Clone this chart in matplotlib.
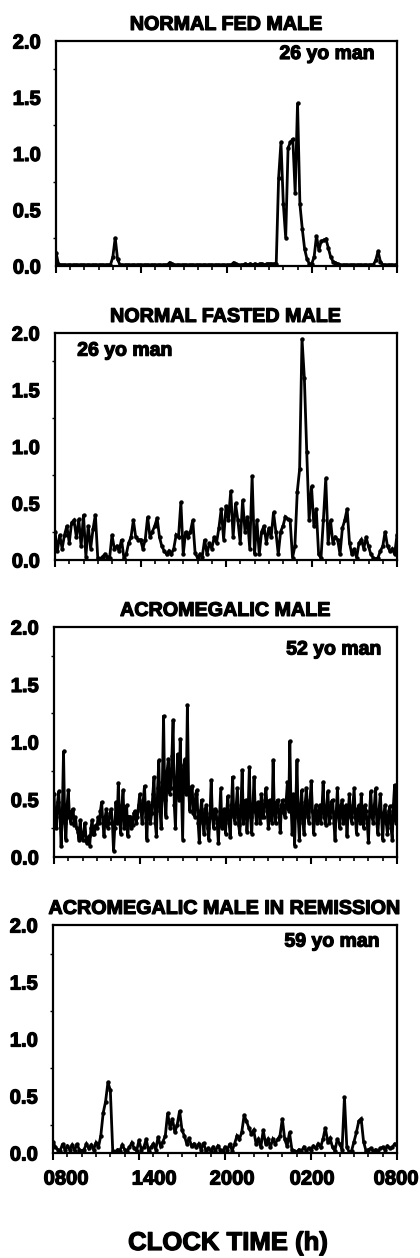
import numpy as np
import matplotlib
matplotlib.use("Agg")
import matplotlib.pyplot as plt
import matplotlib.patheffects as pe
from matplotlib.transforms import offset_copy
from matplotlib.ticker import MultipleLocator

minutes_10 = np.arange(0, 24 * 60 + 1, 10)
minutes_5 = np.arange(0, 24 * 60 + 1, 5)

fed_male = [
    0.12, 0.02, 0.01, 0.01, 0.01, 0.01,
    0.01, 0.01, 0.01, 0.01, 0.01, 0.01,
    0.01, 0.01, 0.01, 0.01, 0.01, 0.01,
    0.01, 0.01, 0.01, 0.01, 0.01, 0.01,
    0.08, 0.25, 0.06, 0.01, 0.01, 0.01,
    0.01, 0.01, 0.01, 0.01, 0.01, 0.01,
    0.01, 0.01, 0.01, 0.01, 0.01, 0.01,
    0.01, 0.01, 0.01, 0.01, 0.01, 0.01,
    0.03, 0.02, 0.01, 0.01, 0.01, 0.01,
    0.01, 0.01, 0.01, 0.01, 0.01, 0.01,
    0.01, 0.01, 0.01, 0.01, 0.01, 0.01,
    0.01, 0.01, 0.01, 0.01, 0.01, 0.01,
    0.01, 0.01, 0.01, 0.03, 0.02, 0.01,
    0.01, 0.01, 0.02, 0.01, 0.02, 0.01,
    0.02, 0.01, 0.02, 0.02, 0.01, 0.02,
    0.02, 0.02, 0.02, 0.02, 0.78, 1.10,
    0.55, 0.25, 1.05, 1.10, 1.13, 0.65,
    1.45, 0.55, 0.33, 0.15, 0.06, 0.02,
    0.02, 0.08, 0.27, 0.14, 0.22, 0.23,
    0.24, 0.16, 0.08, 0.04, 0.03, 0.02,
    0.01, 0.01, 0.01, 0.01, 0.01, 0.01,
    0.01, 0.01, 0.01, 0.01, 0.01, 0.01,
    0.01, 0.01, 0.01, 0.05, 0.13, 0.04,
    0.01, 0.01, 0.01, 0.01, 0.01, 0.01,
    0.01,
]

fasted_male = [
    0.25, 0.08, 0.22, 0.10, 0.22, 0.30,
    0.15, 0.33, 0.35, 0.20, 0.36, 0.12,
    0.40, 0.03, 0.30, 0.10, 0.27, 0.40,
    0.02, 0.01, 0.03, 0.05, 0.03, 0.02,
    0.22, 0.10, 0.12, 0.08, 0.18, 0.02,
    0.05, 0.15, 0.20, 0.35, 0.20, 0.18,
    0.18, 0.10, 0.18, 0.38, 0.20, 0.25,
    0.30, 0.37, 0.20, 0.12, 0.08, 0.05,
    0.08, 0.05, 0.10, 0.22, 0.20, 0.51,
    0.05, 0.25, 0.20, 0.25, 0.35, 0.06,
    0.02, 0.05, 0.03, 0.18, 0.05, 0.15,
    0.10, 0.20, 0.15, 0.28, 0.45, 0.18,
    0.48, 0.35, 0.61, 0.20, 0.50, 0.35,
    0.15, 0.53, 0.25, 0.38, 0.10, 0.74,
    0.05, 0.35, 0.05, 0.25, 0.30, 0.15,
    0.28, 0.20, 0.42, 0.25, 0.05, 0.25,
    0.30, 0.38, 0.36, 0.35, 0.02, 0.12,
    0.60, 0.80, 1.95, 1.60, 0.95, 0.35,
    0.65, 0.30, 0.45, 0.05, 0.02, 0.35,
    0.72, 0.15, 0.35, 0.15, 0.20, 0.18,
    0.05, 0.28, 0.35, 0.45, 0.15, 0.05,
    0.10, 0.02, 0.15, 0.18, 0.10, 0.20,
    0.12, 0.05, 0.02, 0.01, 0.02, 0.08,
    0.12, 0.25, 0.12, 0.08, 0.10, 0.05,
    0.22,
]

# acromegalic trace is much denser, 5 min samples
acro_male = [
    0.55, 0.30, 0.25, 0.48, 0.57, 0.35, 0.10, 0.40, 0.92, 0.30, 0.15, 0.45,
    0.58, 0.35, 0.30, 0.40, 0.42, 0.28, 0.35, 0.25, 0.22, 0.15, 0.32, 0.18,
    0.15, 0.22, 0.30, 0.14, 0.12, 0.18, 0.10, 0.25, 0.32, 0.20, 0.20, 0.28,
    0.25, 0.35, 0.30, 0.40, 0.48, 0.30, 0.18, 0.35, 0.42, 0.25, 0.30, 0.38,
    0.42, 0.30, 0.05, 0.25, 0.48, 0.30, 0.64, 0.35, 0.20, 0.45, 0.58, 0.25,
    0.30, 0.45, 0.18, 0.35, 0.35, 0.25, 0.28, 0.38, 0.40, 0.30, 0.35, 0.45,
    0.55, 0.40, 0.30, 0.50, 0.62, 0.35, 0.15, 0.48, 0.45, 0.30, 0.38, 0.55,
    0.70, 0.30, 0.18, 0.60, 0.84, 0.40, 0.25, 0.65, 1.23, 0.50, 0.35, 0.75,
    0.85, 0.55, 0.60, 0.88, 1.19, 0.45, 0.25, 0.70, 0.90, 0.50, 1.03, 0.60,
    0.15, 0.80, 0.85, 0.55, 1.32, 0.60, 0.40, 0.60, 0.62, 0.38, 0.35, 0.55,
    0.58, 0.30, 0.13, 0.40, 0.50, 0.30, 0.20, 0.42, 0.45, 0.25, 0.15, 0.38,
    0.67, 0.35, 0.25, 0.42, 0.40, 0.30, 0.12, 0.35, 0.60, 0.25, 0.30, 0.42,
    0.20, 0.40, 0.53, 0.30, 0.17, 0.45, 0.70, 0.35, 0.30, 0.45, 0.60, 0.28,
    0.20, 0.45, 0.76, 0.30, 0.38, 0.50, 0.22, 0.40, 0.78, 0.35, 0.20, 0.45,
    0.70, 0.40, 0.30, 0.48, 0.45, 0.30, 0.55, 0.35, 0.35, 0.50, 0.60, 0.40,
    0.25, 0.50, 0.45, 0.30, 0.84, 0.40, 0.30, 0.48, 0.50, 0.35, 0.22, 0.45,
    0.50, 0.38, 0.35, 0.50, 0.65, 0.40, 1.01, 0.45, 0.20, 0.55, 0.10, 0.45,
    0.84, 0.35, 0.15, 0.45, 0.58, 0.30, 0.20, 0.48, 0.60, 0.35, 0.30, 0.50,
    0.66, 0.40, 0.20, 0.38, 0.45, 0.30, 0.35, 0.45, 0.30, 0.42, 0.65, 0.35,
    0.28, 0.45, 0.57, 0.30, 0.35, 0.48, 0.50, 0.30, 0.15, 0.40, 0.60, 0.35,
    0.25, 0.45, 0.50, 0.30, 0.40, 0.45, 0.18, 0.38, 0.55, 0.35, 0.30, 0.45,
    0.60, 0.35, 0.20, 0.42, 0.45, 0.30, 0.55, 0.35, 0.25, 0.45, 0.40, 0.30,
    0.13, 0.40, 0.57, 0.35, 0.30, 0.45, 0.60, 0.30, 0.20, 0.42, 0.55, 0.35,
    0.15, 0.38, 0.45, 0.30, 0.20, 0.40, 0.44, 0.25, 0.15, 0.45, 0.63, 0.30,
    0.40,
]

remission_male = [
    0.10, 0.05, 0.03, 0.02, 0.08, 0.03,
    0.06, 0.03, 0.07, 0.02, 0.08, 0.03,
    0.02, 0.03, 0.08, 0.04, 0.07, 0.03,
    0.09, 0.05, 0.15, 0.35, 0.45, 0.62,
    0.55, 0.02, 0.01, 0.03, 0.02, 0.07,
    0.03, 0.02, 0.05, 0.09, 0.04, 0.02,
    0.11, 0.03, 0.05, 0.12, 0.02, 0.05,
    0.08, 0.03, 0.14, 0.06, 0.10, 0.15,
    0.35, 0.22, 0.30, 0.18, 0.25, 0.37,
    0.20, 0.15, 0.08, 0.13, 0.06, 0.08,
    0.05, 0.08, 0.03, 0.09, 0.02, 0.04,
    0.02, 0.05, 0.02, 0.06, 0.03, 0.02,
    0.05, 0.03, 0.08, 0.02, 0.08, 0.15,
    0.12, 0.18, 0.33, 0.28, 0.22, 0.17,
    0.20, 0.08, 0.12, 0.05, 0.20, 0.08,
    0.12, 0.05, 0.12, 0.08, 0.12, 0.15,
    0.30, 0.12, 0.06, 0.18, 0.03, 0.02,
    0.01, 0.03, 0.02, 0.05, 0.02, 0.04,
    0.03, 0.06, 0.04, 0.08, 0.05, 0.12,
    0.22, 0.10, 0.13, 0.05, 0.02, 0.12,
    0.08, 0.03, 0.49, 0.05, 0.01, 0.02,
    0.10, 0.18, 0.28, 0.30, 0.10, 0.02,
    0.03, 0.04, 0.02, 0.03, 0.01, 0.04,
    0.05, 0.03, 0.06, 0.04, 0.05, 0.08,
    0.07,
]

titles = ["NORMAL FED MALE", "NORMAL FASTED MALE",
          "ACROMEGALIC MALE", "ACROMEGALIC MALE IN REMISSION"]
ages = ["26 yo man", "26 yo man", "52 yo man", "59 yo man"]
series = [fed_male, fasted_male, acro_male, remission_male]
sample_min = [minutes_10, minutes_10, minutes_5, minutes_10]
xtick_hours = [0, 6, 12, 18, 24]
xtick_labels = ["0800", "1400", "2000", "0200", "0800"]

# ---- Layout (pixel boxes from the reference: left, top, right, bottom) ----
W, H = 420, 1258
boxes = [(56, 41, 397, 266), (55, 333, 397, 560),
         (54, 627, 397, 857), (53, 925, 397, 1153)]
age_pos = [(0.935, 0.94, "right"), (0.065, 0.92, "left"),
           (0.955, 0.90, "right"), (0.95, 0.925, "right")]
# the printed hour labels sit a little right of their ticks
label_shift_px = [13, 15, 7, 1, -1]

plt.rcParams["font.family"] = ["Liberation Sans", "DejaVu Sans"]
plt.rcParams["font.weight"] = "bold"
plt.rcParams["axes.titleweight"] = "bold"

# fake the very heavy typeface with a thin outline
heavy = [pe.withStroke(linewidth=0.9, foreground="black")]

fig = plt.figure(figsize=(W / 100, H / 100), dpi=100)

for k, (l, t, r, b) in enumerate(boxes):
    ax = fig.add_axes([l / W, 1 - b / H, (r - l) / W, (b - t) / H])
    ax.plot(sample_min[k] / 60.0, series[k], color="black", lw=2.0,
            marker="o", ms=3.2, markeredgewidth=0, solid_joinstyle="miter")
    ax.set_xlim(0, 24)
    ax.set_ylim(0, 2.0)

    ax.xaxis.set_major_locator(MultipleLocator(6))
    ax.xaxis.set_minor_locator(MultipleLocator(1))
    ax.yaxis.set_minor_locator(MultipleLocator(0.25))
    ax.set_yticks([0, 0.5, 1.0, 1.5, 2.0])
    ax.set_yticklabels(["0.0", "0.5", "1.0", "1.5", "2.0"])
    ax.tick_params(axis="y", which="major", length=0, pad=11, labelsize=14.5)
    ax.tick_params(axis="y", which="minor", length=2, width=1)
    ax.tick_params(axis="x", which="major", length=5, width=1.5)
    ax.tick_params(axis="x", which="minor", length=3, width=1.2)
    ax.set_xticklabels([])
    for lab in ax.get_yticklabels():
        lab.set_path_effects(heavy)

    if k == len(boxes) - 1:
        for hr, txt, dx in zip(xtick_hours, xtick_labels, label_shift_px):
            tr = offset_copy(ax.get_xaxis_transform(), fig=fig,
                             x=dx, y=-26, units="dots")
            ax.text(hr, 0, txt, transform=tr, ha="center", va="center",
                    fontsize=14.5, path_effects=heavy, clip_on=False)

    for sp in ax.spines.values():
        sp.set_linewidth(1.6)

    ttl = ax.set_title(titles[k], fontsize=14.2, fontweight="bold", pad=8)
    ttl.set_path_effects(heavy)
    ax_x, ax_y, ha = age_pos[k]
    ax.text(ax_x, ax_y, ages[k], transform=ax.transAxes, ha=ha, va="center",
            fontsize=14, path_effects=heavy)

fig.text(228 / W, 1 - 1243 / H, "CLOCK TIME (h)", ha="center",
         va="center", fontsize=18.5, path_effects=heavy)

fig.savefig("out.png", dpi=100)
plt.close(fig)
